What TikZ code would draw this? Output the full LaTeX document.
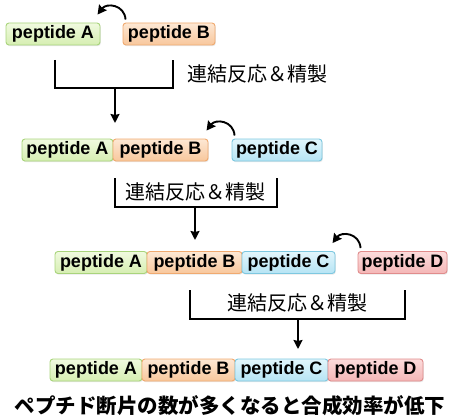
\documentclass[tikz,border=0pt]{standalone}
\usepackage{fontspec}
\setmainfont{Liberation Sans}
\newfontfamily\jp{Noto Sans CJK JP}
\usetikzlibrary{arrows.meta,calc,shadows}

\definecolor{bdA}{HTML}{A9D47C}\definecolor{topA}{HTML}{F0FADF}\definecolor{botA}{HTML}{D6EEB2}
\definecolor{bdB}{HTML}{F0AA70}\definecolor{topB}{HTML}{FDE8D4}\definecolor{botB}{HTML}{F8C79C}
\definecolor{bdC}{HTML}{7EC8E0}\definecolor{topC}{HTML}{E2F6FC}\definecolor{botC}{HTML}{B6E4F4}
\definecolor{bdD}{HTML}{E08C8C}\definecolor{topD}{HTML}{FCDCDC}\definecolor{botD}{HTML}{F4B6B6}

\begin{document}
\begin{tikzpicture}[x=1pt,y=-1pt,
  pep/.style={rounded corners=3pt, line width=0.9pt, minimum height=22pt,
    inner sep=0pt, text height=13pt, text depth=3.8pt,
    font=\fontsize{18}{18}\selectfont\bfseries,
    drop shadow={opacity=0.18, shadow xshift=0.8pt, shadow yshift=-1.2pt}},
  pA/.style={pep, draw=bdA, top color=topA, bottom color=botA},
  pB/.style={pep, draw=bdB, top color=topB, bottom color=botB},
  pC/.style={pep, draw=bdC, top color=topC, bottom color=botC},
  pD/.style={pep, draw=bdD, top color=topD, bottom color=botD},
  bracket/.style={line width=1.9pt, line join=miter},
  down/.style={line width=1.9pt, -{Stealth[length=9pt,width=9pt,inset=1pt]}},
  turn/.style={line width=1.9pt, -{Stealth[length=9pt,width=9.5pt,inset=1pt]}},
  lab/.style={font=\jp\fontsize{20}{20}\selectfont, inner sep=0pt}
]
\useasboundingbox (0,0) rectangle (450,420);

% --- row 1 ---
\node[pA, minimum width=94pt] (A1) at (53,34) {peptide A};
\node[pB, minimum width=92pt] (B1) at (169,34) {peptide B};
\draw[turn] ($(B1.north west)+(3,-3)$) .. controls ($(B1.north west)+(2,-18)$) and ($(B1.north west)+(-16,-20)$) .. ($(B1.north west)+(-25,-8)$);
\coordinate (k1a) at (55,60); \coordinate (k1b) at (55,88);
\coordinate (k1c) at (173,88); \coordinate (k1d) at (173,60);
\coordinate (k1m) at (115,88); \coordinate (k1e) at (115,123);
\draw[bracket] (k1a) -- (k1b) -- (k1c) -- (k1d);
\draw[down] (k1m) -- (k1e);
\node[lab] (L1) at (257,74) {連結反応＆精製};

% --- row 2 ---
\node[pA, minimum width=91pt] (A2) at (67.5,150) {peptide A};
\node[pB, minimum width=95pt] (B2) at (160.5,150) {peptide B};
\node[pC, minimum width=90pt] (C2) at (277,150) {peptide C};
\draw[turn] ($(C2.north west)+(3,-3)$) .. controls ($(C2.north west)+(2,-18)$) and ($(C2.north west)+(-16,-20)$) .. ($(C2.north west)+(-25,-8)$);
\coordinate (k2a) at (115,178); \coordinate (k2b) at (115,207);
\coordinate (k2c) at (277,207); \coordinate (k2d) at (277,178);
\coordinate (k2m) at (195,207); \coordinate (k2e) at (195,240);
\draw[bracket] (k2a) -- (k2b) -- (k2c) -- (k2d);
\draw[down] (k2m) -- (k2e);
\node[lab] (L2) at (195,191.5) {連結反応＆精製};

% --- row 3 ---
\node[pA, minimum width=92pt] (A3) at (101,262.5) {peptide A};
\node[pB, minimum width=95pt] (B3) at (194.5,262.5) {peptide B};
\node[pC, minimum width=93pt] (C3) at (288.5,262.5) {peptide C};
\node[pD, minimum width=89pt] (D3) at (402.5,262.5) {peptide D};
\draw[turn] ($(D3.north west)+(3,-3)$) .. controls ($(D3.north west)+(2,-18)$) and ($(D3.north west)+(-16,-20)$) .. ($(D3.north west)+(-25,-8)$);
\coordinate (k3a) at (190,290); \coordinate (k3b) at (190,319);
\coordinate (k3c) at (405,319); \coordinate (k3d) at (405,290);
\coordinate (k3m) at (298,319); \coordinate (k3e) at (298,349);
\draw[bracket] (k3a) -- (k3b) -- (k3c) -- (k3d);
\draw[down] (k3m) -- (k3e);
\node[lab] (L3) at (297,303) {連結反応＆精製};

% --- row 4 ---
\node[pA, minimum width=92pt] (A4) at (96,370) {peptide A};
\node[pB, minimum width=93pt] (B4) at (188.5,370) {peptide B};
\node[pC, minimum width=93pt] (C4) at (281.5,370) {peptide C};
\node[pD, minimum width=95pt] (D4) at (375.5,370) {peptide D};

\node[font=\jp\bfseries\fontsize{20.5}{20.5}\selectfont, inner sep=0pt] (note) at (230,406) {ペプチド断片の数が多くなると合成効率が低下};
\end{tikzpicture}
\end{document}
